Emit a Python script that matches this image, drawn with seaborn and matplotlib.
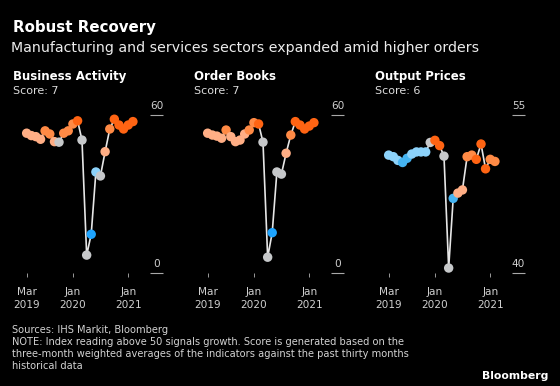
import pandas as pd
import matplotlib
matplotlib.use("Agg")
import matplotlib.pyplot as plt
import seaborn as sns

# monthly readings, Mar 2019 .. Feb 2021
months = pd.date_range("2019-03-01", periods=24, freq="MS")

business = [53.1, 52.2, 51.8, 50.8, 54.0, 52.8, 49.9, 49.7, 53.1, 54.0, 56.6, 57.8,
            50.5, 6.9, 14.8, 38.4, 36.9, 46.1, 54.7, 58.4, 56.2, 54.7, 56.2, 57.5]
orders = [53.1, 52.4, 52.0, 51.2, 54.3, 51.8, 49.9, 50.5, 52.8, 54.3, 57.1, 56.6,
          49.7, 6.1, 15.4, 38.4, 37.6, 45.5, 52.4, 57.5, 56.2, 54.7, 55.8, 57.1]
prices = [51.2, 51.05, 50.7, 50.5, 50.9, 51.3, 51.5, 51.5, 51.5, 52.4, 52.6, 52.1,
          51.1, 40.5, 47.1, 47.6, 47.9, 51.05, 51.2, 50.8, 52.25, 49.9, 50.8, 50.6]

# colour level of each dot (-3 strong blue .. 3 strong orange)
business_lvl = [1, 1, 1, 1, 2, 2, 1, 0, 2, 2, 2, 3, 0, 0, -3, -1, 0, 1, 2, 3, 3, 3, 3, 3]
orders_lvl = [1, 1, 1, 1, 2, 1, 1, 1, 1, 2, 2, 3, 0, 0, -3, 0, 0, 1, 2, 3, 3, 3, 3, 3]
prices_lvl = [-1, -1, -1, -2, -2, -1, -1, -1, -1, 0, 3, 3, 0, 0, -2, 1, 1, 2, 2, 3, 3, 3, 2, 2]

titles = ["Business Activity", "Order Books", "Output Prices"]
scores = [7, 7, 6]
ylims = [(0, 60), (0, 60), (40, 55)]
xtick_dates = pd.to_datetime(["2019-03-01", "2020-01-01", "2021-01-01"])
xtick_labels = ["Mar\n2019", "Jan\n2020", "Jan\n2021"]

palette = {-3: "#1ea4ff", -2: "#45b4f2", -1: "#8cd2fa", 0: "#c6c8ca",
           1: "#ffae85", 2: "#ff8a45", 3: "#ff6413"}


def main():
    sns.set_theme(style="dark")
    plt.rcParams["font.family"] = ["DejaVu Sans"]
    fig = plt.figure(figsize=(5.6, 3.86), dpi=100, facecolor="black")

    series = [business, orders, prices]
    levels = [business_lvl, orders_lvl, prices_lvl]

    for i in range(3):
        left = 12 + 181 * i
        ax = fig.add_axes([left / 560, 1 - 273.3 / 386, 138 / 560, 158.3 / 386])
        ax.set_facecolor("black")
        df = pd.DataFrame({"month": months, "value": series[i], "lvl": levels[i]})

        sns.lineplot(data=df, x="month", y="value", color="#e6e6e6", lw=1.2, ax=ax)
        sns.scatterplot(data=df, x="month", y="value", hue="lvl", palette=palette,
                        s=46, linewidth=0, legend=False, ax=ax, zorder=3, clip_on=False)

        ax.set_xlim(pd.Timestamp("2018-11-24"), pd.Timestamp("2021-05-25"))
        ax.set_ylim(*ylims[i])
        ax.set_xlabel("")
        ax.set_ylabel("")
        ax.grid(False)
        for sp in ax.spines.values():
            sp.set_visible(False)

        ax.set_xticks(xtick_dates)
        ax.set_xticklabels(xtick_labels, color="#cfcfcf", fontsize=7.6, linespacing=1.4)
        ax.tick_params(axis="x", length=3, width=0.7, color="#9a9a9a", pad=7, bottom=True)

        ax.yaxis.tick_right()
        ax.set_yticks(list(ylims[i]))
        ax.tick_params(axis="y", length=9.4, width=0.8, color="#a8a8a8",
                       labelright=False, right=True)
        for v in ylims[i]:
            ax.annotate(str(v), xy=(1, v), xycoords=("axes fraction", "data"),
                        xytext=(4.7, 3.2), textcoords="offset points",
                        ha="center", va="bottom", color="#cfcfcf", fontsize=7.6)

        fig.text((left + 1) / 560, 1 - 80 / 386, titles[i], color="white",
                 fontsize=8.5, weight="bold", va="baseline")
        fig.text((left + 1) / 560, 1 - 94 / 386, f"Score: {scores[i]}", color="#dcdcdc",
                 fontsize=8, va="baseline")

    fig.text(13 / 560, 1 - 32.3 / 386, "Robust Recovery", color="white",
             fontsize=10.8, weight="bold", va="baseline")
    fig.text(11 / 560, 1 - 52 / 386,
             "Manufacturing and services sectors expanded amid higher orders",
             color="#ececec", fontsize=10.2, va="baseline")

    note = ("Sources: IHS Markit, Bloomberg\n"
            "NOTE: Index reading above 50 signals growth. Score is generated based on the\n"
            "three-month weighted averages of the indicators against the past thirty months\n"
            "historical data")
    fig.text(12 / 560, 1 - 325 / 386, note, color="#d2d2d2", fontsize=7.1,
             va="top", linespacing=1.25)
    fig.text(548 / 560, 1 - 379 / 386, "Bloomberg", color="white", fontsize=7.8,
             weight="bold", ha="right", va="baseline")

    fig.savefig("out.png", dpi=100, facecolor="black")


if __name__ == "__main__":
    main()
